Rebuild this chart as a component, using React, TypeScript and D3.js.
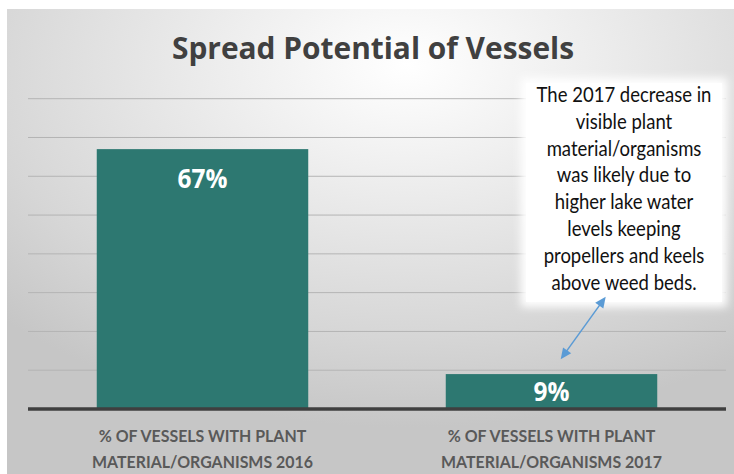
import React from "react";
import * as d3 from "d3";

const W = 734;
const H = 474;

const title = "Spread Potential of Vessels";
const categories = ["2016", "2017"];
const values = [0.67, 0.09];
const valueLabels = ["67%", "9%"];
const categoryLines = [
  ["% OF VESSELS WITH PLANT", "MATERIAL/ORGANISMS 2016"],
  ["% OF VESSELS WITH PLANT", "MATERIAL/ORGANISMS 2017"],
];
const noteLines = [
  "The 2017 decrease in",
  "visible plant",
  "material/organisms",
  "was likely due to",
  "higher lake water",
  "levels keeping",
  "propellers and keels",
  "above weed beds.",
];

function measure(text: string, font: string): number {
  const ctx = document.createElement("canvas").getContext("2d");
  if (!ctx) return 1;
  ctx.font = font;
  return ctx.measureText(text).width || 1;
}

const FONT = "Lato, 'Open Sans', sans-serif";
const BOLDFONT = "'Open Sans', Lato, sans-serif";

export default function App() {
  const plot = { left: 28, right: 726, top: 98.7, bottom: 409 };
  const x = d3
    .scaleBand<string>()
    .domain(categories)
    .range([plot.left, plot.right])
    .paddingInner(0.394)
    .paddingOuter(0.197);
  const y = d3.scaleLinear().domain([0, 0.8]).range([plot.bottom, plot.top]);
  const grid = y.ticks(8).filter((t) => t > 0);

  const catFontSize = 17.5;
  const catSx = 208.7 / measure(categoryLines[0][0], `bold ${catFontSize}px Lato`);
  const noteFontSize = 20.5;
  const noteSx = 175 / measure(noteLines[0], `${noteFontSize}px Lato`);
  const valFontSize = 27;
  const valSx = 50 / measure(valueLabels[0], `bold ${valFontSize}px 'Open Sans'`);

  // annotation box
  const box = { x0: 523, x1: 725, y0: 80, y1: 305 };
  const noteCx = (box.x0 + box.x1) / 2;
  const noteBase0 = 101.7;
  const noteStep = 26.9;

  // arrow between note and the 2017 bar
  const c2 = (x(categories[1]) ?? 0) + x.bandwidth() / 2;
  const a1 = { x: c2 + 9.2, y: y(values[1]) - 14.8 };
  const a0 = { x: c2 + 54.2, y: box.y1 - 8.3 };
  const dx = a1.x - a0.x;
  const dy = a1.y - a0.y;
  const len = Math.hypot(dx, dy);
  const ux = dx / len;
  const uy = dy / len;
  const head = 11;
  const hw = 5;
  const headPts = (tip: { x: number; y: number }, dirx: number, diry: number) => {
    const bx = tip.x - dirx * head;
    const by = tip.y - diry * head;
    return [
      [tip.x, tip.y],
      [bx - diry * hw, by + dirx * hw],
      [bx + diry * hw, by - dirx * hw],
    ]
      .map((p) => p.join(","))
      .join(" ");
  };

  return (
    <svg
      width={W}
      height={H}
      viewBox={`0 0 ${W} ${H}`}
      style={{ position: "absolute", left: 0, top: 0, background: "#fff" }}
    >
      <defs>
        <radialGradient id="bg" cx="0.55" cy="0.12" r="0.78" fx="0.55" fy="0.12">
          <stop offset="0" stopColor="#ffffff" />
          <stop offset="0.35" stopColor="#ececec" />
          <stop offset="0.75" stopColor="#d6d6d6" />
          <stop offset="1" stopColor="#c6c6c6" />
        </radialGradient>
        <filter id="glow" x="-20%" y="-20%" width="140%" height="140%">
          <feGaussianBlur stdDeviation="4" />
        </filter>
      </defs>

      <rect x={7} y={9} width={W - 7} height={H - 9} fill="url(#bg)" />

      {/* gridlines */}
      {grid.map((t) => (
        <line
          key={t}
          x1={plot.left}
          x2={plot.right}
          y1={y(t)}
          y2={y(t)}
          stroke="#b4b4b4"
          strokeWidth={1}
        />
      ))}

      {/* bars */}
      {categories.map((c, i) => (
        <rect
          key={c}
          x={x(c)}
          y={y(values[i])}
          width={x.bandwidth()}
          height={y(0) - y(values[i])}
          fill="#2d7871"
        />
      ))}

      {/* baseline */}
      <line
        x1={plot.left}
        x2={plot.right}
        y1={y(0)}
        y2={y(0)}
        stroke="#3f3f3f"
        strokeWidth={3.5}
      />

      {/* value labels */}
      {categories.map((c, i) => {
        const cx = (x(c) ?? 0) + x.bandwidth() / 2;
        const h = y(0) - y(values[i]);
        const baseY = h > 60 ? y(values[i]) + 39.2 : y(values[i]) + h / 2 + 9;
        return (
          <text
            key={c}
            transform={`translate(${cx},${baseY}) scale(${valSx},1)`}
            textAnchor="middle"
            fontFamily={BOLDFONT}
            fontWeight="bold"
            fontSize={valFontSize}
            fill="#ffffff"
          >
            {valueLabels[i]}
          </text>
        );
      })}

      {/* category labels */}
      {categories.map((c, i) => {
        const cx = (x(c) ?? 0) + x.bandwidth() / 2;
        return categoryLines[i].map((line, j) => (
          <text
            key={c + j}
            transform={`translate(${cx},${441.7 + j * 26.6}) scale(${catSx},1)`}
            textAnchor="middle"
            fontFamily={FONT}
            fontWeight="bold"
            fontSize={catFontSize}
            fill="#595959"
          >
            {line}
          </text>
        ));
      })}

      {/* title */}
      <text
        x={373}
        y={59.3}
        textAnchor="middle"
        fontFamily={BOLDFONT}
        fontWeight="bold"
        fontSize={30}
        fill="#404040"
        textLength={402}
        lengthAdjust="spacingAndGlyphs"
      >
        {title}
      </text>

      {/* annotation box */}
      <rect
        x={box.x0 - 2}
        y={box.y0 - 2}
        width={box.x1 - box.x0 + 4}
        height={box.y1 - box.y0 + 4}
        fill="#ffffff"
        filter="url(#glow)"
      />
      <rect
        x={box.x0 + 3}
        y={box.y0 + 3}
        width={box.x1 - box.x0 - 6}
        height={box.y1 - box.y0 - 6}
        fill="#ffffff"
      />
      {noteLines.map((line, i) => (
        <text
          key={i}
          transform={`translate(${noteCx},${noteBase0 + i * noteStep}) scale(${noteSx},1)`}
          textAnchor="middle"
          fontFamily={FONT}
          fontSize={noteFontSize}
          fill="#111111"
        >
          {line}
        </text>
      ))}

      {/* double-headed arrow */}
      <line
        x1={a0.x + ux * head * 0.8}
        y1={a0.y + uy * head * 0.8}
        x2={a1.x - ux * head * 0.8}
        y2={a1.y - uy * head * 0.8}
        stroke="#5b9bd5"
        strokeWidth={1.5}
      />
      <polygon points={headPts(a1, ux, uy)} fill="#5b9bd5" />
      <polygon points={headPts(a0, -ux, -uy)} fill="#5b9bd5" />
    </svg>
  );
}
